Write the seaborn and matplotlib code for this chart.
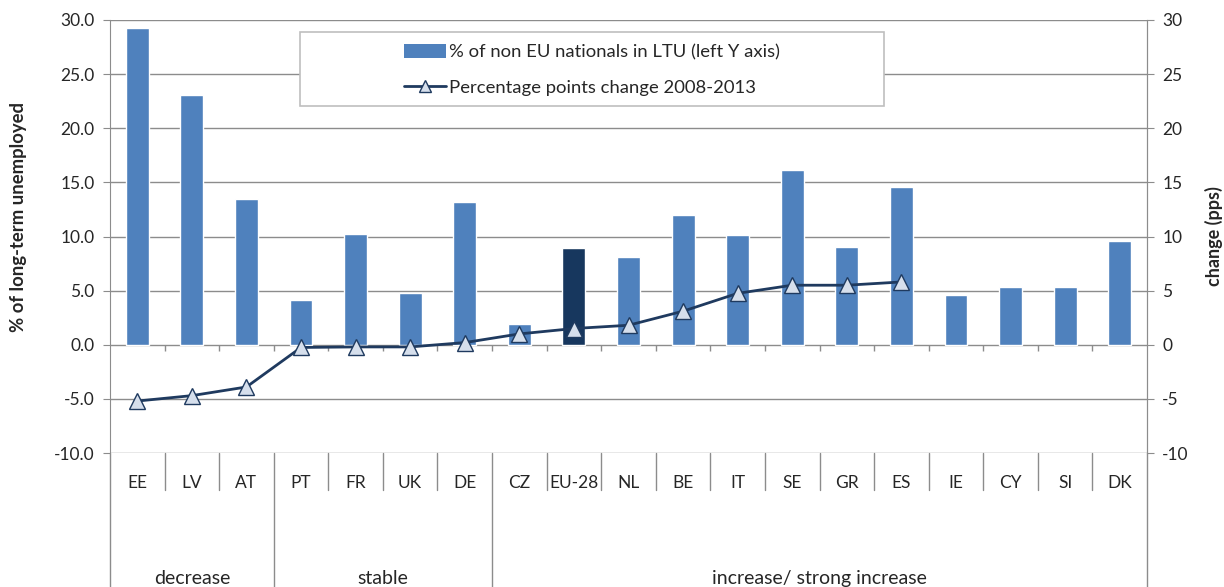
import numpy as np
import pandas as pd
import matplotlib
matplotlib.use("Agg")
import matplotlib.pyplot as plt
import matplotlib.transforms as mtransforms
from matplotlib.patches import Patch, Rectangle
from matplotlib.lines import Line2D
import seaborn as sns

countries = ["EE", "LV", "AT", "PT", "FR", "UK", "DE", "CZ", "EU-28", "NL",
             "BE", "IT", "SE", "GR", "ES", "IE", "CY", "SI", "DK"]
share_non_eu = [29.3, 23.1, 13.5, 4.1, 10.2, 4.8, 13.2, 1.9, 8.9, 8.1,
                12.0, 10.1, 16.1, 9.0, 14.6, 4.6, 5.3, 5.3, 9.6]
change_pps = [-5.2, -4.7, -3.9, -0.25, -0.2, -0.2, 0.2, 1.0, 1.5, 1.8,
              3.1, 4.75, 5.5, 5.5, 5.8, np.nan, np.nan, np.nan, np.nan]
groups = ["decrease", "stable", "increase/ strong increase"]
group_sizes = [3, 4, 12]

bar_color = "#4F81BD"
eu_color = "#17375E"
line_color = "#1F3A5F"
grid_color = "#8C8C8C"

sns.set_style("white")
plt.rcParams["font.family"] = ["Lato", "DejaVu Sans"]

df = pd.DataFrame({"country": countries, "share": share_non_eu, "change": change_pps})
palette = {c: (eu_color if c == "EU-28" else bar_color) for c in countries}

fig = plt.figure(figsize=(12.24, 5.87), dpi=100)
ax = fig.add_axes([110 / 1224, 1 - 453 / 587, 1037 / 1224, 433 / 587])

sns.barplot(data=df, x="country", y="share", hue="country", palette=palette,
            legend=False, width=0.42, saturation=1, ax=ax, zorder=2)
ax.plot(np.arange(len(countries)), df["change"], color=line_color, lw=2,
        marker="^", markersize=12, markerfacecolor="#D6DFEC",
        markeredgecolor=line_color, markeredgewidth=1, zorder=4)

ax.set_ylim(-10, 30)
ax.set_xlim(-0.5, len(countries) - 0.5)
yt = np.arange(-10, 31, 5)
ax.set_yticks(yt, [f"{v:.1f}" for v in yt])
for v in yt:
    ax.axhline(v, color=grid_color, lw=1, zorder=1)
ax.tick_params(axis="y", labelsize=12.5, length=5, color=grid_color, pad=6)
ax.set_ylabel("% of long-term unemployed", fontsize=13.3, fontweight="bold")
ax.yaxis.set_label_coords(-0.08, 0.545)
ax.set_xlabel("")

# category labels in the lower band
ax.set_xticks(np.arange(len(countries)), countries)
ax.tick_params(axis="x", length=0, labelsize=12.5, pad=16)

for s in ["top", "bottom"]:
    ax.spines[s].set_visible(False)
for s in ["left", "right"]:
    ax.spines[s].set_color(grid_color)

# ticks on the zero line
bounds = np.arange(0.5, len(countries) - 0.5, 1)
ax.vlines(bounds, -0.55, 0, color=grid_color, lw=1, zorder=1)

# separators under the plot
trans = mtransforms.blended_transform_factory(ax.transData, ax.transAxes)
group_edges = np.cumsum(group_sizes)[:-1] - 0.5
for b in bounds:
    low = -0.31 if b in group_edges else -0.085
    ax.plot([b, b], [0, low], transform=trans, color=grid_color, lw=1, clip_on=False)
for b in [-0.5, len(countries) - 0.5]:
    ax.plot([b, b], [0, -0.31], transform=trans, color=grid_color, lw=1, clip_on=False)

start = 0
for g, n in zip(groups, group_sizes):
    ax.text(start + (n - 1) / 2, -0.29, g, transform=trans, ha="center", va="center",
            fontsize=14, clip_on=False)
    start += n

ax2 = ax.twinx()
ax2.set_ylim(-10, 30)
ax2.set_yticks(yt, [str(v) for v in yt])
ax2.tick_params(axis="y", labelsize=12.5, length=5, color=grid_color, pad=6)
ax2.set_ylabel("change (pps)", fontsize=13, fontweight="bold")
ax2.yaxis.set_label_coords(1.056, 0.5)
for s in ["top", "bottom", "left"]:
    ax2.spines[s].set_visible(False)
ax2.spines["right"].set_color(grid_color)

# legend box
box = Rectangle((300 / 1224, 1 - 106 / 587), 584 / 1224, 74 / 587, transform=fig.transFigure,
                facecolor="white", edgecolor="#BFBFBF", lw=1.2, zorder=5)
fig.patches.append(box)
handles = [Patch(facecolor=bar_color, edgecolor="none"),
           Line2D([], [], color=line_color, lw=2, marker="^", markersize=8,
                  markerfacecolor="#D6DFEC", markeredgecolor=line_color)]
leg = fig.legend(handles, ["% of non EU nationals in LTU (left Y axis)",
                           "Percentage points change 2008-2013"],
                 loc="center", bbox_to_anchor=(592 / 1224, 1 - 70 / 587),
                 frameon=False, fontsize=13.3, handlelength=2.3, handleheight=0.8,
                 handletextpad=0.15, labelspacing=1.0)
leg.set_zorder(6)

fig.savefig("out.png", dpi=100)
